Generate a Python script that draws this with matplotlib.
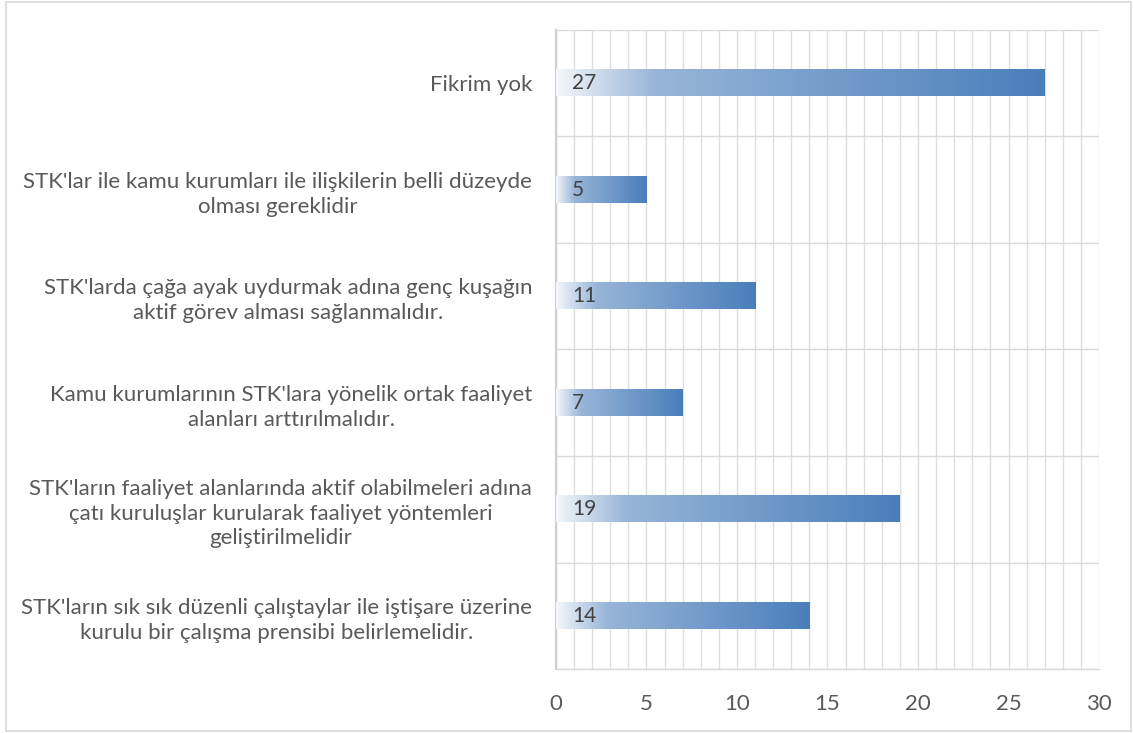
import numpy as np
import matplotlib.pyplot as plt
from matplotlib.colors import LinearSegmentedColormap
from matplotlib.patches import Rectangle

plt.rcParams['font.family'] = ['Lato', 'DejaVu Sans']

# categories from top to bottom
categories = [
    "Fikrim yok",
    "STK'lar ile kamu kurumları ile ilişkilerin belli düzeyde\nolması gereklidir",
    "STK'larda çağa ayak uydurmak adına genç kuşağın\naktif görev alması sağlanmalıdır.",
    "Kamu kurumlarının STK'lara yönelik ortak faaliyet\nalanları arttırılmalıdır.",
    "STK'ların faaliyet alanlarında aktif olabilmeleri adına\nçatı kuruluşlar kurularak faaliyet yöntemleri\ngeliştirilmelidir",
    "STK'ların sık sık düzenli çalıştaylar ile iştişare üzerine\nkurulu bir çalışma prensibi belirlemelidir.",
]
counts = [27, 5, 11, 7, 19, 14]
xticks = [0, 5, 10, 15, 20, 25, 30]

grad = LinearSegmentedColormap.from_list(
    "bar_grad", [(0.0, "#f4f7fb"), (0.2, "#98b5d8"), (1.0, "#4a7ebb")])

fig = plt.figure(figsize=(11.33, 7.33), dpi=100)
ax = fig.add_axes([0.4907, 0.0873, 0.4793, 0.8718])

n = len(categories)
ypos = np.arange(n)
bar_h = 0.245

bars = ax.barh(ypos, counts, height=bar_h, color="none", zorder=3)
gradient = np.linspace(0, 1, 256).reshape(1, -1)
for rect, v in zip(bars, counts):
    y0 = rect.get_y()
    ax.imshow(gradient, cmap=grad, aspect="auto", zorder=3,
              extent=(0, v, y0, y0 + bar_h), interpolation="bicubic")
    ax.annotate(str(v), xy=(0, y0 + bar_h / 2), xytext=(16, 0),
                textcoords="offset pixels", ha="left", va="center",
                fontsize=15, color="#404040", zorder=4)

ax.set_xlim(0, 30)
ax.set_ylim(n - 0.5, -0.5)
ax.set_xticks(xticks)
ax.set_xticks(np.arange(0, 31, 1), minor=True)
ax.set_yticks(ypos)
ax.set_yticklabels(categories, multialignment="center", linespacing=1.3)
ax.set_yticks(np.arange(-0.5, n, 1), minor=True)

ax.grid(which="both", axis="x", color="#dedede", linewidth=1.0, zorder=0)
ax.grid(which="minor", axis="y", color="#d9d9d9", linewidth=1.0, zorder=0)
ax.tick_params(axis="both", which="both", length=0)
ax.tick_params(axis="x", labelsize=16, labelcolor="#595959", pad=18)
ax.tick_params(axis="y", labelsize=16, labelcolor="#595959", pad=17)

for side in ["top", "right"]:
    ax.spines[side].set_visible(False)
ax.spines["left"].set_color("#d0d0d0")
ax.spines["left"].set_linewidth(1.6)
ax.spines["bottom"].set_color("#d9d9d9")
ax.spines["bottom"].set_linewidth(1.0)

fig.patches.append(Rectangle((0.005, 0.003), 0.993, 0.994, transform=fig.transFigure,
                             fill=False, edgecolor="#d9d9d9", linewidth=1.2))

fig.savefig("out.png", dpi=100)
